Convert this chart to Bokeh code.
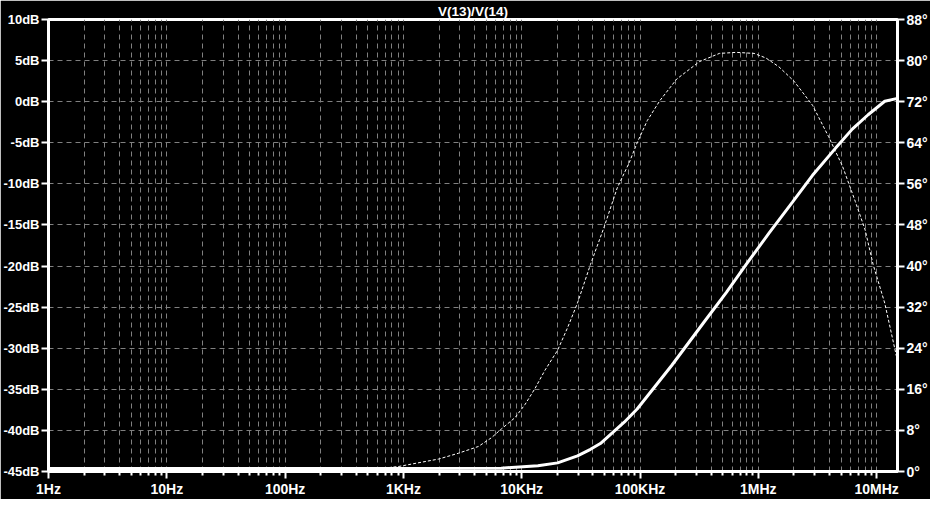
from bokeh.plotting import figure
from bokeh.models import Range1d, LinearAxis, FixedTicker, PrintfTickFormatter
from bokeh.embed import file_html
from bokeh.resources import INLINE

# ---- data ----
freq_mag = [1, 10, 100, 1e3, 6.7e3, 13.7e3, 20.1e3, 29.6e3, 38.1e3, 46.2e3, 56.1e3,
            73.5e3, 94.5e3, 185e3, 344e3, 537e3, 789e3, 1.23e6, 1.95e6, 2.87e6,
            4.48e6, 6.22e6, 8.47e6, 11.7e6, 15e6]
mag_db = [-44.65, -44.65, -44.65, -44.65, -44.6, -44.3, -43.95, -43.1, -42.3, -41.6,
          -40.5, -39.0, -37.4, -32.1, -26.9, -23.2, -19.8, -16.0, -12.2, -8.96,
          -5.68, -3.34, -1.59, 0.05, 0.4]

freq_ph = [1, 10, 100, 300, 625, 918, 1.99e3, 2.92e3, 4.3e3, 5.53e3, 6.7e3, 8.79e3,
           10.7e3, 12.9e3, 15.7e3, 20.1e3, 24.4e3, 29.6e3, 38.1e3, 49.9e3, 64.1e3,
           80.9e3, 94.5e3, 115e3, 147e3, 204e3, 318e3, 469e3, 651e3, 920e3, 1.16e6,
           1.49e6, 2.0e6, 2.87e6, 3.92e6, 5.13e6, 6.59e6, 8.0e6, 9.33e6, 11.7e6, 15e6]
phase_deg = [0.0, 0.02, 0.1, 0.3, 0.56, 0.99, 2.43, 3.56, 4.87, 6.55, 8.24, 10.5,
             13.1, 16.1, 19.7, 23.6, 28.0, 32.8, 40.3, 47.7, 55.2,
             60.1, 64.0, 68.3, 72.2, 76.4, 79.8, 81.4, 81.6, 81.4, 80.5,
             78.8, 76.0, 71.3, 65.2, 59.5, 52.6, 47.0, 40.3, 32.8, 21.5]

x_ticks = [1, 10, 100, 1000, 10000, 100000, 1000000, 10000000]
x_labels = ["1Hz", "10Hz", "100Hz", "1KHz", "10KHz", "100KHz", "1MHz", "10MHz"]
db_ticks = [-45, -40, -35, -30, -25, -20, -15, -10, -5, 0, 5, 10]
deg_ticks = [0, 8, 16, 24, 32, 40, 48, 56, 64, 72, 80, 88]
title_text = "V(13)/V(14)"

X_MAX = 1.5e7
FONT = "Liberation Sans"
FS = "13px"

p = figure(width=930, height=499, x_axis_type="log",
           x_range=Range1d(1, X_MAX), y_range=Range1d(-45, 10),
           output_backend="svg", toolbar_location=None, title=title_text,
           min_border_left=0, min_border_right=0, min_border_top=0, min_border_bottom=0)

p.background_fill_color = "black"
p.border_fill_color = "black"
p.outline_line_color = "white"
p.outline_line_width = 3

p.title.align = "center"
p.title.text_color = "white"
p.title.text_font = FONT
p.title.text_font_size = "13.5px"
p.title.text_font_style = "bold"
p.title.standoff = 2
p.title.text_line_height = 1.0

p.extra_y_ranges = {"phase": Range1d(0, 88)}
raxis = LinearAxis(y_range_name="phase")
p.add_layout(raxis, "right")

minor = [m * d for d in x_ticks for m in range(2, 10) if m * d <= X_MAX]
xt = FixedTicker(ticks=x_ticks, minor_ticks=minor)
p.xaxis.ticker = xt
p.xgrid.ticker = xt
p.xaxis.major_label_overrides = {t: l for t, l in zip(x_ticks, x_labels)}

p.yaxis[0].ticker = FixedTicker(ticks=db_ticks)
p.yaxis[0].formatter = PrintfTickFormatter(format="%ddB")
p.ygrid.ticker = FixedTicker(ticks=db_ticks)
raxis.ticker = FixedTicker(ticks=deg_ticks)
raxis.formatter = PrintfTickFormatter(format="%d°")

for ax in p.axis:
    ax.axis_line_color = "white"
    ax.axis_line_width = 3
    ax.major_tick_line_color = "white"
    ax.major_tick_line_width = 2
    ax.major_tick_in = 0
    ax.major_tick_out = 7
    ax.minor_tick_line_color = None
    ax.minor_tick_out = 0
    ax.major_label_text_color = "white"
    ax.major_label_text_font = FONT
    ax.major_label_text_font_size = FS
    ax.major_label_text_font_style = "bold"
    ax.major_label_text_line_height = 1.0
    ax.major_label_standoff = 2
    ax.axis_label_standoff = 0

p.xaxis.major_label_text_font_size = "14px"
raxis.major_label_text_font_size = "14px"
p.xaxis.minor_tick_line_color = "white"
p.xaxis.minor_tick_line_width = 2
p.xaxis.minor_tick_in = 0
p.xaxis.minor_tick_out = 4

for g in (p.xgrid, p.ygrid):
    g.grid_line_color = "#808080"
    g.grid_line_width = 1
    g.grid_line_dash = "5 4"
p.xgrid.minor_grid_line_color = "#808080"
p.xgrid.minor_grid_line_width = 1
p.xgrid.minor_grid_line_dash = "5 4"

p.line(freq_ph, phase_deg, y_range_name="phase", line_color="white",
       line_width=1, line_dash="3 2")
p.line(freq_mag, mag_db, line_color="white", line_width=3)

open("out.html", "w").write(file_html(p, INLINE))
